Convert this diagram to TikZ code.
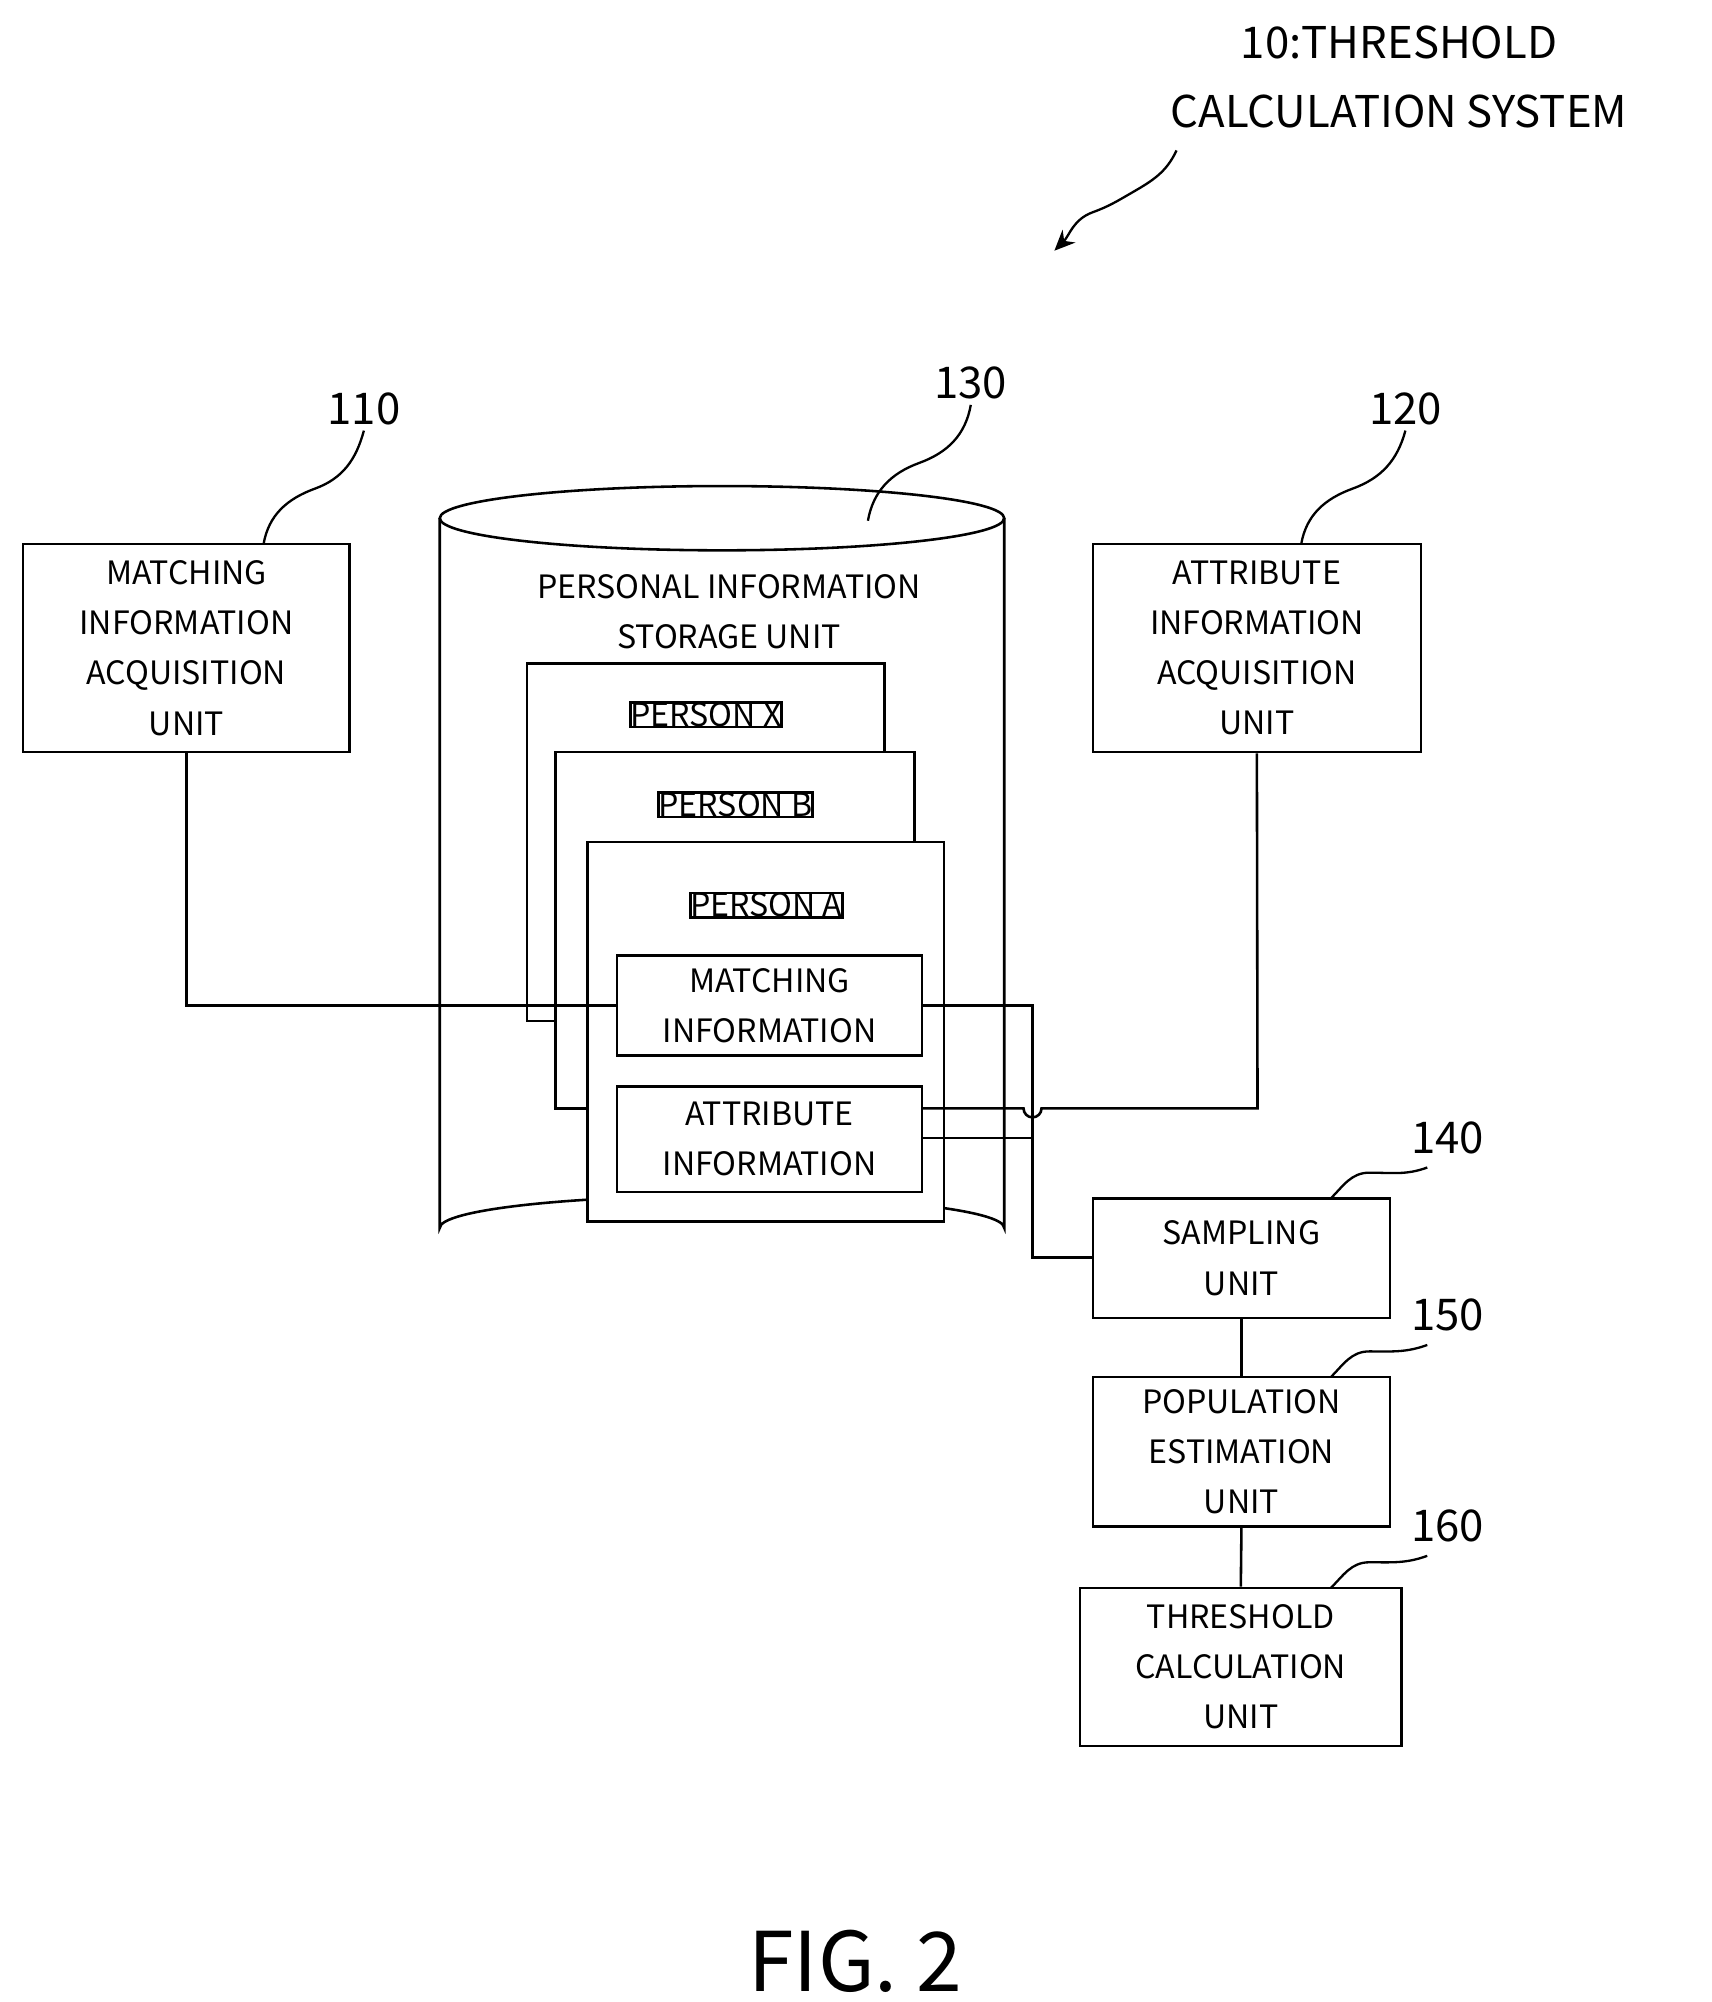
\documentclass[tikz,border=0pt]{standalone}
\usepackage{fontspec}
\setmainfont{Noto Sans CJK JP}
\usetikzlibrary{arrows.meta}
\begin{document}
\begin{tikzpicture}[x=1pt,y=-1pt,line width=2pt,
  box/.style={draw,fill=white,align=center,inner sep=0pt,font=\fontsize{25}{39}\selectfont},
  lab/.style={font=\fontsize{34}{40}\selectfont},
  sq/.style={line width=1.8pt}]
\useasboundingbox (0,0) rectangle (1331,1557);
\node[font=\fontsize{34}{54}\selectfont,align=center] (title) at (1088,60) {10:THRESHOLD\\CALCULATION SYSTEM};
\coordinate (ta) at (915,117); \coordinate (tb) at (820,195);
\draw[sq,-{Stealth[length=16pt,width=14pt]}] (ta) to[out=245,in=30] (880,150) to[out=210,in=20] (850,165) to[out=200,in=45] (tb);
% cylinder
\draw[fill=white] (342,403) -- (342,955) arc[start angle=180,end angle=360,x radius=219.5,y radius=25] -- (781,403);
\draw (561.5,403) ellipse[x radius=219.5,y radius=25];
\node[box,draw=none,fill=none] (pis) at (567,476) {PERSONAL INFORMATION\\STORAGE UNIT};
\node[box,minimum width=278pt,minimum height=278pt] (px) at (549,655) {};
\node[box,font=\fontsize{25}{30}\selectfont] at (549,556) {PERSON X};
\node[box,minimum width=279pt,minimum height=277pt] (pb) at (571.5,723.5) {};
\node[box,font=\fontsize{25}{30}\selectfont] at (572,626) {PERSON B};
\node[box,minimum width=277pt,minimum height=295pt] (pa) at (595.5,802.5) {};
\node[box,font=\fontsize{25}{30}\selectfont] at (596,704) {PERSON A};
\node[box,minimum width=237pt,minimum height=78pt] (mi) at (598.5,782) {MATCHING\\INFORMATION};
\node[box,minimum width=237pt,minimum height=82pt] (ai) at (598.5,886) {ATTRIBUTE\\INFORMATION};
% side boxes
\node[box,minimum width=254pt,minimum height=162pt] (mia) at (145,504) {MATCHING\\INFORMATION\\ACQUISITION\\UNIT};
\node[box,minimum width=255pt,minimum height=162pt] (aia) at (977.5,504) {ATTRIBUTE\\INFORMATION\\ACQUISITION\\UNIT};
\node[box,minimum width=231pt,minimum height=93pt] (su) at (965.5,978.5) {SAMPLING\\UNIT};
\node[box,minimum width=231pt,minimum height=116pt] (pe) at (965.5,1129) {POPULATION\\ESTIMATION\\UNIT};
\node[box,minimum width=250pt,minimum height=123pt] (tc) at (965,1296.5) {THRESHOLD\\CALCULATION\\UNIT};
% connectors
\coordinate (j1) at (145,782);
\draw (mia.south) -- (j1) -- (mi.west);
\coordinate (v1) at (803,782); \coordinate (v2) at (803,978);
\draw (mi.east |- v1) -- (v1) -- (v2) -- (su.west |- v2);
\coordinate (h1) at (796,862); \coordinate (h2) at (978,862);
\draw (ai.east |- h1) -- (h1) arc[start angle=180,end angle=0,radius=7] -- (h2) -- (aia.south);
\coordinate (h3) at (803,885);
\draw (ai.east |- h3) -- (h3);
\draw (su.south) -- (pe.north);
\draw (pe.south) -- (tc.north);
% labels
\node[lab] (l110) at (283,318) {110};
\node[lab] (l130) at (755,298) {130};
\node[lab] (l120) at (1093,318) {120};
\node[lab] (l140) at (1126,885) {140};
\node[lab] (l150) at (1126,1023) {150};
\node[lab] (l160) at (1126,1187) {160};
\draw[sq] (205,423) to[out=80,in=200] (245,380) to[out=20,in=255] (l110.south);
\draw[sq] (675,405) to[out=80,in=200] (715,360) to[out=20,in=260] (l130.south);
\draw[sq] (1012,423) to[out=80,in=200] (1052,380) to[out=20,in=255] (l120.south);
\draw[sq] (1035,932) to[out=45,in=180] (1065,912) to[out=0,in=200] (1110,908);
\draw[sq] (1035,1071) to[out=45,in=180] (1065,1051) to[out=0,in=200] (1110,1046);
\draw[sq] (1035,1235) to[out=45,in=180] (1065,1215) to[out=0,in=200] (1110,1210);
\node[font=\fontsize{64}{70}\selectfont] (fig) at (665,1525) {FIG. 2};
\end{tikzpicture}
\end{document}
